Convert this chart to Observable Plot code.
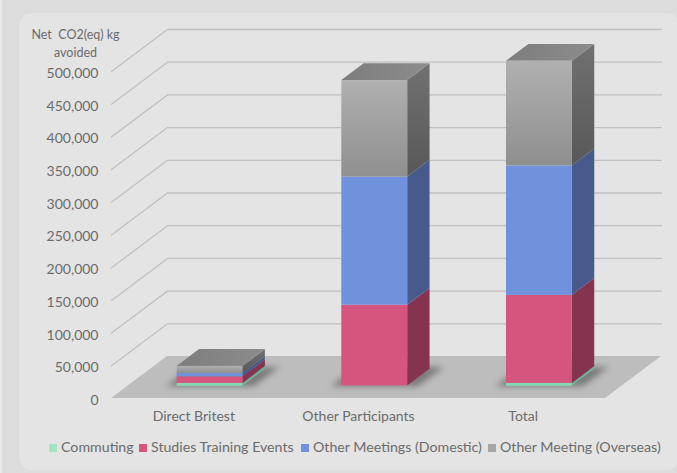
<!DOCTYPE html>
<html>
<head>
<meta charset="utf-8">
<script src="https://cdn.jsdelivr.net/npm/d3@7"></script>
<script src="https://cdn.jsdelivr.net/npm/@observablehq/plot@0.6"></script>
<style>
  html, body { margin: 0; padding: 0; background: #dcdcdc; width: 677px; height: 473px; overflow: hidden; }
  #edge { position: absolute; left: 0; top: 0; width: 2px; height: 473px; background: #e9e9e9; }
  #card { position: absolute; left: 19px; top: 13px; width: 661px; height: 457px; background: #e4e4e4; border-radius: 14px; }
  #chart { position: absolute; left: 0; top: 0; }
  #legend { position: absolute; left: 0; top: 437px; width: 677px; height: 20px; font: 14.2px Lato, sans-serif; color: #6b6b6b; white-space: pre; }
  #legend span.item { position: absolute; top: 0; line-height: 20px; }
  #legend i { display: inline-block; width: 8px; height: 8px; margin-right: 4px; }
</style>
</head>
<body>
<div id="edge"></div>
<div id="card"></div>
<div id="chart"></div>
<div id="legend"></div>
<script>
// Net CO2(eq) avoided, stacked per group, bottom series first
const categories = ["Direct Britest", "Other Participants", "Total"];
const seriesNames = ["Commuting", "Studies Training Events", "Other Meetings (Domestic)", "Other Meeting (Overseas)"];
const commuting = [4500, 500, 4500];
const studiesTraining = [10000, 123500, 134500];
const meetingsDomestic = [5000, 196000, 198000];
const meetingsOverseas = [11000, 147500, 160000];
const yTicks = [0, 50000, 100000, 150000, 200000, 250000, 300000, 350000, 400000, 450000, 500000];

// Face colours per series: front gradient id or flat colour, side, top
const frontFill = ["#86d8b2", "#d6557e", "#7092dd", "url(#frontGrey)"];
const sideFill = ["#6fb096", "#84344f", "#48598c", "url(#sideGrey)"];
const topFill = "url(#topGrey)";
const legendFill = ["#a3e4c5", "#d6557e", "#7092dd", "#a6a6a6"];
const legendLeft = [49, 139, 301, 488];

// Oblique view: moving one unit back shifts x and y by these amounts in data units
const depthX = 0.34;
const depthY = 64200;
const barWidth = 0.4;
const barFront = 0.29;
const barBack = 0.69;
const xAt = (i, offset, depth) => i + 0.5 + offset + depth * depthX;
const yAt = (value, depth) => value + depth * depthY;

// Per-series segments with cumulative bounds
const columns = [commuting, studiesTraining, meetingsDomestic, meetingsOverseas];
const segments = [];
categories.forEach((category, i) => {
  let base = 0;
  columns.forEach((values, s) => {
    segments.push({category, i, s, v0: base, v1: base + values[i]});
    base += values[i];
  });
});
const totals = categories.map((c, i) => d3.sum(columns, (values) => values[i]));

// Back wall and side-wall gridlines
const gridlines = yTicks.filter((t) => t > 0).flatMap((t) => [
  {t, x: 0, y: yAt(t, 0)},
  {t, x: depthX, y: yAt(t, 1)},
  {t, x: categories.length + depthX, y: yAt(t, 1)}
]);

// Floor as a band of two horizontal edges
const floor = [
  {y: yAt(0, 0), x1: 0, x2: categories.length},
  {y: yAt(0, 1), x1: depthX, x2: categories.length + depthX}
];

// Side faces have vertical edges, tops have horizontal edges
const side = segments.flatMap((d) => [barFront, barBack].map((depth) => ({
  key: d.i + "-" + d.s, s: d.s,
  x: xAt(d.i, barWidth / 2, depth), y1: yAt(d.v0, depth), y2: yAt(d.v1, depth)
})));
const top_ = categories.flatMap((c, i) => [barFront, barBack].map((depth) => ({
  i, y: yAt(totals[i], depth),
  x1: xAt(i, -barWidth / 2, depth), x2: xAt(i, barWidth / 2, depth)
})));
// Soft contact shadow on the floor around each footprint
const shadow = categories.flatMap((c, i) => [barFront - 0.01, barBack + 0.05].map((depth) => ({
  i, y: yAt(0, depth),
  x1: xAt(i, -barWidth / 2 - 0.06, depth), x2: xAt(i, barWidth / 2 + 0.07, depth)
})));

const gradients = () => {
  const svg = d3.create("svg:g");
  const defs = svg.append("defs");
  const add = (id, x2, y2, from, to) => {
    const g = defs.append("linearGradient").attr("id", id)
      .attr("x1", 0).attr("y1", 0).attr("x2", x2).attr("y2", y2);
    g.append("stop").attr("offset", 0).attr("stop-color", from);
    g.append("stop").attr("offset", 1).attr("stop-color", to);
  };
  add("frontGrey", 0, 1, "#b0b0b0", "#8f8f8f");
  add("sideGrey", 0, 1, "#717171", "#585858");
  add("topGrey", 1, 0, "#7d7d7d", "#8c8c8c");
  return svg.node();
};

const plot = Plot.plot({
  width: 677,
  height: 430,
  marginLeft: 111,
  marginRight: 16,
  marginTop: 29,
  marginBottom: 32,
  style: {background: "transparent", fontFamily: "Lato, sans-serif", fontSize: "14px", color: "#6b6b6b"},
  x: {type: "linear", domain: [0, categories.length + depthX]},
  y: {type: "linear", domain: [0, 500000 + depthY]},
  marks: [
    gradients,
    Plot.line(gridlines, {x: "x", y: "y", z: "t", stroke: "#c0c0c0", strokeWidth: 1.3}),
    Plot.areaX(floor, {y: "y", x1: "x1", x2: "x2", fill: "#bdbdbd"}),
    Plot.areaX(shadow, {y: "y", x1: "x1", x2: "x2", z: "i", fill: "#4d4d4d", fillOpacity: 0.6, imageFilter: "blur(3px)"}),
    Plot.areaY(side, {x: "x", y1: "y1", y2: "y2", z: "key", fill: (d) => sideFill[d.s]}),
    Plot.areaX(top_, {y: "y", x1: "x1", x2: "x2", z: "i", fill: topFill}),
    Plot.rect(segments, {
      x1: (d) => xAt(d.i, -barWidth / 2, barFront),
      x2: (d) => xAt(d.i, barWidth / 2, barFront),
      y1: (d) => yAt(d.v0, barFront),
      y2: (d) => yAt(d.v1, barFront),
      fill: (d) => frontFill[d.s]
    }),
    Plot.axisY({ticks: yTicks, tickFormat: d3.format(","), tickSize: 0, tickPadding: 13, dy: 2, label: null}),
    Plot.axisX({
      ticks: categories.map((c, i) => i + 0.5),
      tickFormat: (d) => categories[d - 0.5],
      tickSize: 0, tickPadding: 13, label: null
    }),
    Plot.text(["Net  CO2(eq) kg\navoided"], {frameAnchor: "top-left", dx: -36, dy: -3, textAnchor: "middle", lineHeight: 1.45, fontSize: 12.5})
  ]
});
document.getElementById("chart").appendChild(plot);

// Legend sits under the plot
const legend = d3.select("#legend");
seriesNames.forEach((name, s) => {
  const item = legend.append("span").attr("class", "item").style("left", legendLeft[s] + "px");
  item.append("i").style("background", legendFill[s]);
  item.append("span").text(name);
});
</script>
</body>
</html>
